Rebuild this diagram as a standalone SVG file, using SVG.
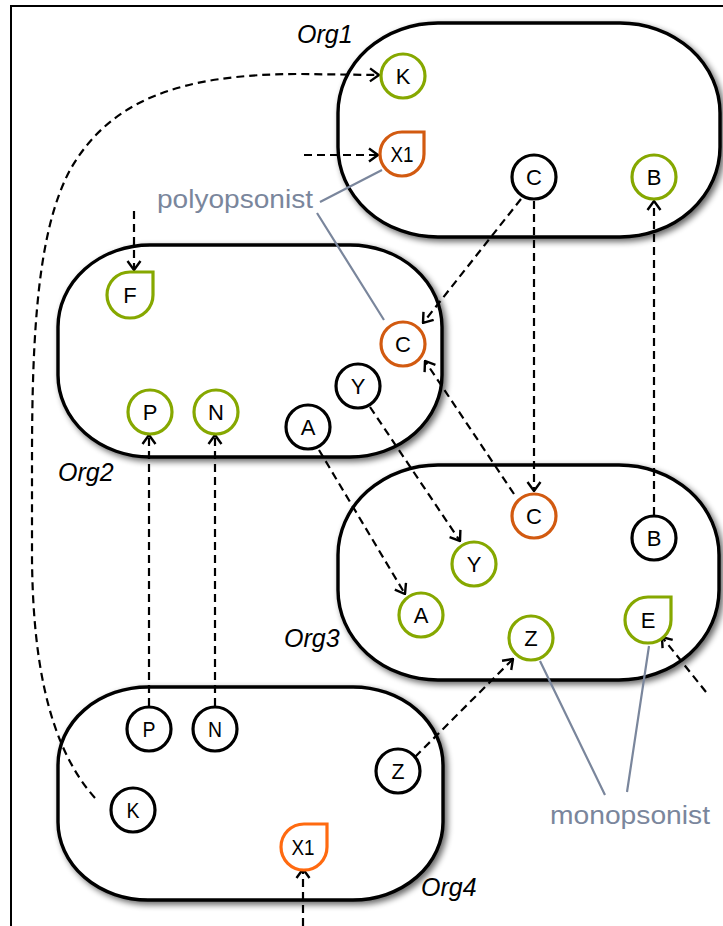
<svg xmlns="http://www.w3.org/2000/svg" width="723" height="926" viewBox="0 0 723 926">
<style>
.org{fill:#fff;stroke:#000;stroke-width:3.4;filter:url(#sh)}
.olab{font-family:"Liberation Sans",Arial,sans-serif;font-style:italic;font-size:25px;fill:#000}
.nd{fill:#fff;stroke-width:3.2}
.g{stroke:#86a800}
.k{stroke:#000}
.o{stroke:#d25a10}
.o2{stroke:#ff6a10}
.t{font-family:"Liberation Sans",Arial,sans-serif;font-size:22px;fill:#000;text-anchor:middle}
.c{fill:none;stroke:#000;stroke-width:2.2;stroke-dasharray:8 5;marker-end:url(#ar)}
.lab{font-family:"Liberation Sans",Arial,sans-serif;font-size:25px;fill:#7a869c}
.ll{stroke:#7a869c;stroke-width:2.2;fill:none}
</style>
<defs>
<filter id="sh" x="-10%" y="-10%" width="125%" height="125%">
<feGaussianBlur in="SourceAlpha" stdDeviation="3"/>
<feOffset dx="3" dy="3" result="b"/>
<feComponentTransfer><feFuncA type="linear" slope="0.6"/></feComponentTransfer>
<feMerge><feMergeNode/><feMergeNode in="SourceGraphic"/></feMerge>
</filter>
<marker id="ar" viewBox="0 0 11 16" refX="10" refY="8" markerWidth="11" markerHeight="16" markerUnits="userSpaceOnUse" orient="auto">
<path d="M1,1.5 L10,8 L1,14.5" fill="none" stroke="#000" stroke-width="2.4" stroke-dasharray="none"/>
</marker>
</defs>
<rect width="723" height="926" fill="#fff"/>
<path d="M11,926 L11,6 L723,6" fill="none" stroke="#000" stroke-width="2"/>

<g id="Org1"><rect class="org" x="338" y="23" width="382" height="214" rx="100" ry="90"/><text class="olab" x="297" y="43">Org1</text></g>
<g id="Org2"><rect class="org" x="58" y="245" width="384" height="212" rx="92" ry="82"/><text class="olab" x="58" y="481">Org2</text></g>
<g id="Org3"><rect class="org" x="338" y="465" width="381" height="215" rx="100" ry="90"/><text class="olab" x="284" y="647">Org3</text></g>
<g id="Org4"><rect class="org" x="58" y="687" width="385" height="213" rx="90" ry="78"/><text class="olab" x="421" y="896">Org4</text></g>

<g id="connectors">
<path class="c" d="M95,798 C45,742 33,650 32,560 L32,460 C32,330 38,230 70,170 C110,100 180,74 300,74 L379,75"/>
<path class="c" d="M304,155 L378,155"/>
<path class="c" d="M134,211 L134,270"/>
<path class="c" d="M521,199 L423,323"/>
<path class="c" d="M534,201 L534,491"/>
<path class="c" d="M514,494 L425,361"/>
<path class="c" d="M654,515 L654,201"/>
<path class="c" d="M149,706 L149,435"/>
<path class="c" d="M215,706 L215,435"/>
<path class="c" d="M319,450 L405,594"/>
<path class="c" d="M370,407 L460,541"/>
<path class="c" d="M415,757 L513,659"/>
<path class="c" d="M706,692 L662,637"/>
<path class="c" d="M303,926 L303,869"/>
</g>

<g id="n1K"><circle class="nd g" cx="403" cy="76" r="22"/><text class="t" x="403" y="84">K</text></g>
<g id="n1X1"><path class="nd o" d="M402,132 L424,132 L424,154 A22,22 0 0 1 402,176 A22,22 0 0 1 380,154 A22,22 0 0 1 402,132 Z"/><text class="t" x="402" y="162" textLength="23" lengthAdjust="spacingAndGlyphs">X1</text></g>
<g id="n1C"><circle class="nd k" cx="534" cy="177" r="22"/><text class="t" x="534" y="185">C</text></g>
<g id="n1B"><circle class="nd g" cx="654" cy="177" r="22"/><text class="t" x="654" y="185">B</text></g>

<g id="n2F"><path class="nd g" d="M130,272 L153,272 L153,295 A23,23 0 0 1 130,318 A23,23 0 0 1 107,295 A23,23 0 0 1 130,272 Z"/><text class="t" x="130" y="303">F</text></g>
<g id="n2C"><circle class="nd o" cx="403" cy="344" r="22"/><text class="t" x="403" y="352">C</text></g>
<g id="n2Y"><circle class="nd k" cx="358" cy="386" r="22"/><text class="t" x="358" y="394">Y</text></g>
<g id="n2A"><circle class="nd k" cx="308" cy="427" r="22"/><text class="t" x="308" y="435">A</text></g>
<g id="n2P"><circle class="nd g" cx="150" cy="412" r="22"/><text class="t" x="150" y="420">P</text></g>
<g id="n2N"><circle class="nd g" cx="216" cy="412" r="22"/><text class="t" x="216" y="420">N</text></g>

<g id="n3C"><circle class="nd o" cx="534" cy="516" r="22"/><text class="t" x="534" y="524">C</text></g>
<g id="n3B"><circle class="nd k" cx="654" cy="538" r="22"/><text class="t" x="654" y="546">B</text></g>
<g id="n3Y"><circle class="nd g" cx="474" cy="564" r="22"/><text class="t" x="474" y="572">Y</text></g>
<g id="n3A"><circle class="nd g" cx="421" cy="615" r="22"/><text class="t" x="421" y="623">A</text></g>
<g id="n3Z"><circle class="nd g" cx="531" cy="638" r="22"/><text class="t" x="531" y="646">Z</text></g>
<g id="n3E"><path class="nd g" d="M648,597 L671,597 L671,620 A23,23 0 0 1 648,643 A23,23 0 0 1 625,620 A23,23 0 0 1 648,597 Z"/><text class="t" x="648" y="628">E</text></g>

<g id="n4P"><circle class="nd k" cx="149" cy="729" r="22"/><text class="t" x="149" y="737" textLength="13" lengthAdjust="spacingAndGlyphs">P</text></g>
<g id="n4N"><circle class="nd k" cx="215" cy="729" r="22"/><text class="t" x="215" y="737" textLength="14" lengthAdjust="spacingAndGlyphs">N</text></g>
<g id="n4K"><circle class="nd k" cx="133" cy="810" r="22"/><text class="t" x="133" y="818" textLength="13" lengthAdjust="spacingAndGlyphs">K</text></g>
<g id="n4Z"><circle class="nd k" cx="398" cy="771" r="22"/><text class="t" x="398" y="779" textLength="13" lengthAdjust="spacingAndGlyphs">Z</text></g>
<g id="n4X1"><path class="nd o2" d="M304,824 L327,824 L327,847 A23,23 0 0 1 304,870 A23,23 0 0 1 281,847 A23,23 0 0 1 304,824 Z"/><text class="t" x="303" y="855" textLength="23" lengthAdjust="spacingAndGlyphs">X1</text></g>

<g id="polyopsonist">
<path class="ll" d="M320,202 L382,170 M317,213 L384,320"/>
<text class="lab" x="157" y="208" textLength="156" lengthAdjust="spacingAndGlyphs">polyopsonist</text>
</g>
<g id="monopsonist">
<path class="ll" d="M540,661 L605,795 M649,646 L627,792"/>
<text class="lab" x="550" y="824" textLength="160" lengthAdjust="spacingAndGlyphs">monopsonist</text>
</g>
</svg>
